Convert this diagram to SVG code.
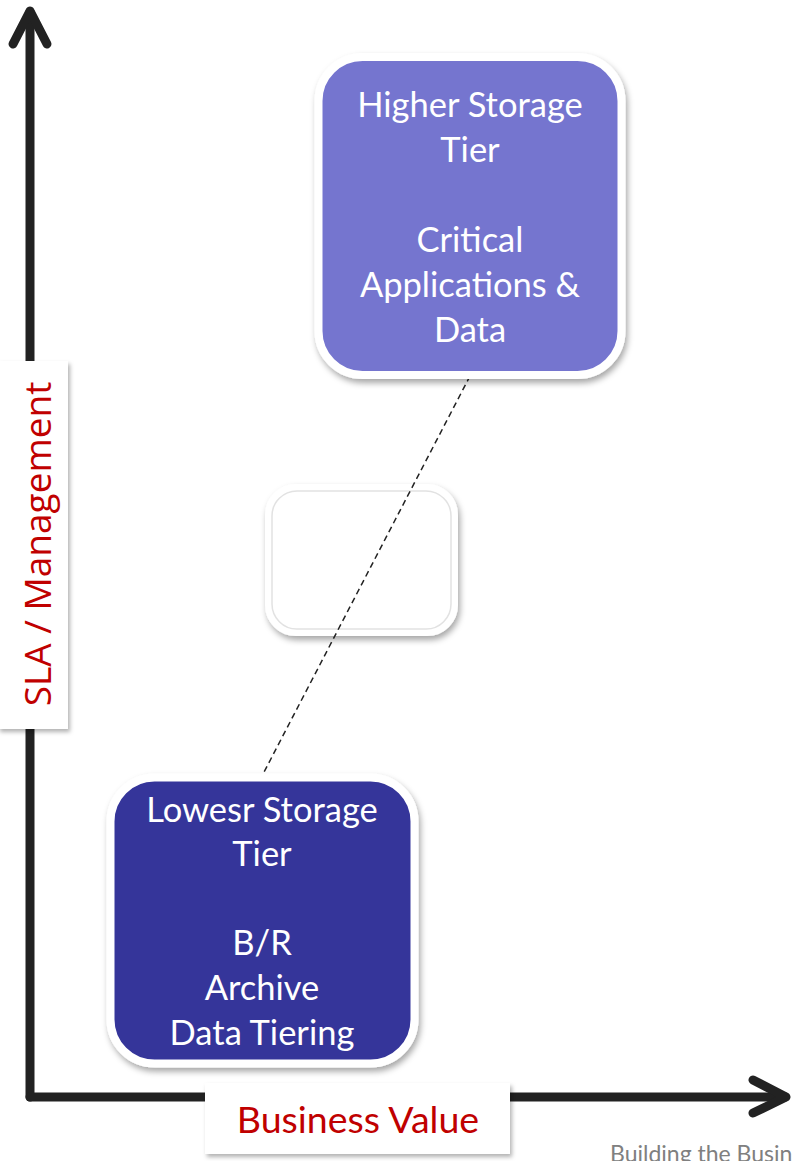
<svg xmlns="http://www.w3.org/2000/svg" width="798" height="1161" viewBox="0 0 798 1161">
<defs>
<style>
.box-text{font-family:Lato,"Open Sans","Liberation Sans",sans-serif;font-size:34.5px;fill:#ffffff;text-anchor:middle}
.axis{stroke:#222222;stroke-width:9;fill:none;stroke-linecap:round;stroke-linejoin:round}
.label{font-family:"Open Sans","Liberation Sans",sans-serif;fill:#C00000;text-anchor:middle}
</style>
<filter id="shadow" x="-20%" y="-20%" width="140%" height="140%">
<feDropShadow dx="2" dy="4" stdDeviation="3" flood-color="#000" flood-opacity="0.35"/>
</filter>
<filter id="shadowS" x="-20%" y="-20%" width="140%" height="140%">
<feDropShadow dx="2" dy="3" stdDeviation="2" flood-color="#000" flood-opacity="0.3"/>
</filter>
</defs>
<rect width="798" height="1161" fill="#ffffff"/>

<g id="axes">
<line class="axis" x1="30" y1="12" x2="30" y2="1097"/>
<polyline class="axis" points="13,44 30,11 47,44"/>
<line class="axis" x1="30" y1="1097" x2="785" y2="1097"/>
<polyline class="axis" points="753,1080 786,1097 753,1113"/>
</g>

<g id="middle-tier">
<rect x="268" y="487" width="187" height="146" rx="28" fill="#ffffff" stroke="#ffffff" stroke-width="6" filter="url(#shadow)"/>
<rect x="272" y="491" width="179" height="138" rx="25" fill="none" stroke="#e2e2e2" stroke-width="1.5"/>
</g>

<g id="connectors">
<line x1="470" y1="376" x2="262" y2="776" stroke="#222" stroke-width="1.5" stroke-dasharray="6,4"/>
</g>

<g id="higher-tier">
<rect x="318.5" y="57" width="303" height="318" rx="44" fill="#7575CF" stroke="#ffffff" stroke-width="8" filter="url(#shadow)"/>
<text class="box-text" x="470" y="117">Higher Storage</text>
<text class="box-text" x="470" y="162">Tier</text>
<text class="box-text" x="470" y="252">Critical</text>
<text class="box-text" x="470" y="297">Applications &amp;</text>
<text class="box-text" x="470" y="342">Data</text>
</g>

<g id="lower-tier">
<rect x="110.5" y="777.5" width="304" height="286" rx="44" fill="#35359A" stroke="#ffffff" stroke-width="8" filter="url(#shadow)"/>
<text class="box-text" x="262" y="822">Lowesr Storage</text>
<text class="box-text" x="262" y="866">Tier</text>
<text class="box-text" x="262" y="955">B/R</text>
<text class="box-text" x="262" y="1000">Archive</text>
<text class="box-text" x="262" y="1045">Data Tiering</text>
</g>

<g id="y-label">
<rect x="-2" y="361" width="70" height="368" fill="#ffffff" filter="url(#shadowS)"/>
<text class="label" font-size="37" transform="translate(51,544) rotate(-90)">SLA / Management</text>
</g>

<g id="x-label">
<rect x="205" y="1083" width="305" height="71" fill="#ffffff" filter="url(#shadowS)"/>
<text class="label" x="358" y="1133" font-size="37.5" style="font-family:Lato,'Open Sans',sans-serif">Business Value</text>
</g>

<text x="610" y="1162" font-family="Lato,'Open Sans',sans-serif" font-size="23" fill="#808080">Building the Busin</text>
</svg>
